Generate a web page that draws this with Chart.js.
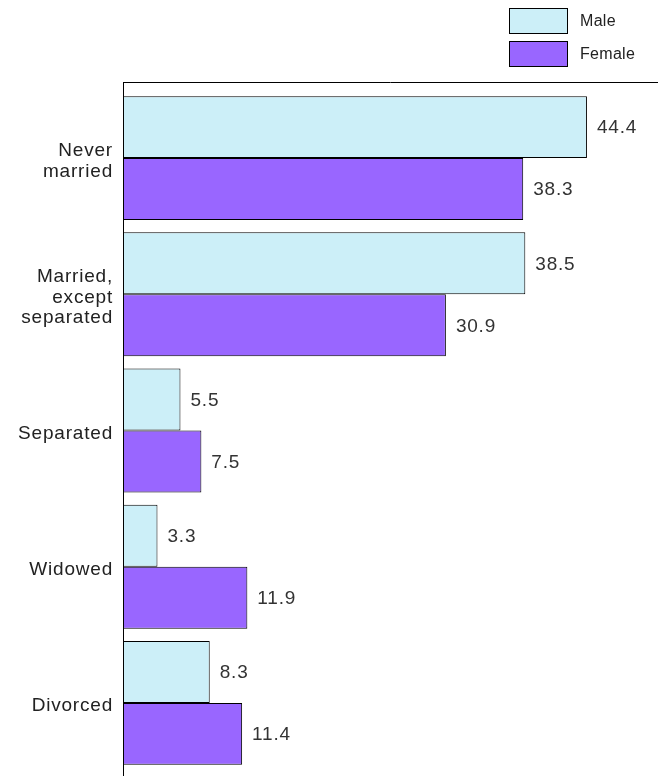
<!DOCTYPE html>
<html>
<head>
<meta charset="utf-8">
<script src="https://cdn.jsdelivr.net/npm/chart.js@4/dist/chart.umd.min.js"></script>
<style>
html,body{margin:0;padding:0;background:#fff;}
#wrap{position:relative;width:658px;height:776px;}
</style>
</head>
<body>
<div id="wrap"><canvas id="c" width="658" height="776"></canvas></div>
<script>
const categories = [["Never","married"],["Married,","except","separated"],["Separated"],["Widowed"],["Divorced"]];
const maleValues = [44.4, 38.5, 5.5, 3.3, 8.3];
const femaleValues = [38.3, 30.9, 7.5, 11.9, 11.4];
const seriesNames = ["Male", "Female"];

const FONT = "'Liberation Sans', Arial, sans-serif";
const TEXT = "#222";
const SPACING = '0.8px';

const spacingPlugin = {
  id: 'spacing',
  beforeUpdate(chart) { chart.ctx.letterSpacing = SPACING; },
  beforeDraw(chart) { chart.ctx.letterSpacing = SPACING; }
};

const framePlugin = {
  id: 'frame',
  afterDraw(chart) {
    const {ctx, chartArea} = chart;
    ctx.save();
    ctx.strokeStyle = '#000';
    ctx.lineWidth = 1;
    ctx.beginPath();
    ctx.moveTo(chartArea.left + 0.5, chartArea.top - 8);
    ctx.lineTo(chartArea.left + 0.5, chart.height);
    ctx.moveTo(chartArea.left, chartArea.top - 8 + 0.5);
    ctx.lineTo(chart.width, chartArea.top - 8 + 0.5);
    ctx.stroke();
    ctx.restore();
  }
};

const valueLabels = {
  id: 'valueLabels',
  afterDatasetsDraw(chart) {
    const {ctx} = chart;
    ctx.save();
    ctx.letterSpacing = SPACING;
    ctx.font = "19px " + FONT;
    ctx.fillStyle = "#333";
    ctx.textAlign = 'left';
    ctx.textBaseline = 'middle';
    chart.data.datasets.forEach((ds, i) => {
      const meta = chart.getDatasetMeta(i);
      meta.data.forEach((bar, j) => {
        ctx.fillText(ds.data[j].toFixed(1), bar.x + 10, bar.y + 1);
      });
    });
    ctx.restore();
  }
};

const customLegend = {
  id: 'customLegend',
  afterDraw(chart) {
    const {ctx} = chart;
    ctx.save();
    ctx.letterSpacing = '0.3px';
    ctx.font = "16px " + FONT;
    ctx.textBaseline = 'middle';
    ctx.textAlign = 'left';
    chart.data.datasets.forEach((ds, i) => {
      const y = 8 + i * 33;
      ctx.fillStyle = ds.backgroundColor;
      ctx.fillRect(509, y, 59, 26);
      ctx.strokeStyle = '#000';
      ctx.lineWidth = 1;
      ctx.strokeRect(509.5, y + 0.5, 58, 25);
      ctx.fillStyle = TEXT;
      ctx.fillText(ds.label, 580, y + 14);
    });
    ctx.restore();
  }
};

new Chart(document.getElementById('c'), {
  type: 'bar',
  data: {
    labels: categories,
    datasets: [
      {label: seriesNames[0], data: maleValues, backgroundColor: '#CCEFF8', borderColor: '#000', borderWidth: 1, borderSkipped: 'left'},
      {label: seriesNames[1], data: femaleValues, backgroundColor: '#9966FF', borderColor: '#000', borderWidth: 1, borderSkipped: 'left'}
    ]
  },
  options: {
    indexAxis: 'y',
    responsive: false,
    animation: false,
    devicePixelRatio: 1,
    layout: {padding: {top: 90, bottom: 5, right: 0, left: 0}},
    datasets: {bar: {categoryPercentage: 0.91, barPercentage: 1.0}},
    plugins: {legend: {display: false}, tooltip: {enabled: false}},
    scales: {
      x: {display: false, min: 0, max: 51.2},
      y: {
        grid: {display: false, drawTicks: false},
        border: {display: false},
        ticks: {
          color: TEXT,
          font: {family: FONT, size: 19, lineHeight: 1.1},
          padding: 10,
          labelOffset: 3
        },
        afterFit(scale) { scale.width = 123; scale.paddingTop = 0; scale.paddingBottom = 0; }
      }
    }
  },
  plugins: [spacingPlugin, framePlugin, valueLabels, customLegend]
});
</script>
</body>
</html>
